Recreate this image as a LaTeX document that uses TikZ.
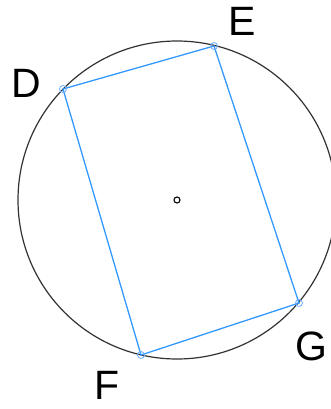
\documentclass[tikz,border=0pt]{standalone}
\usepackage{fontspec}
\setmainfont{Liberation Sans}
\begin{document}
\begin{tikzpicture}[x=1pt,y=-1pt,
  circ/.style={draw=black!80,line width=1.2pt},
  side/.style={draw={rgb,255:red,51;green,153;blue,255},line width=1.3pt},
  vmark/.style={circle,draw={rgb,255:red,120;green,180;blue,255},line width=0.9pt,inner sep=0pt,minimum size=7pt},
  lab/.style={font=\fontsize{41}{41}\selectfont,inner sep=0pt}]
\useasboundingbox (0,0) rectangle (331,409);
\coordinate (O) at (177,200);
\draw[circ] (O) circle (159);
\coordinate (D) at (63,89);
\coordinate (E) at (214,46);
\coordinate (G) at (299,303);
\coordinate (F) at (141,355);
\draw[side] (D) -- (E) -- (G) -- (F) -- cycle;
\foreach \p in {D,E,G,F} \node[vmark] at (\p) {};
\node[circle,draw=black,line width=1.1pt,inner sep=0pt,minimum size=6pt] (o) at (O) {};
\node[lab] (lD) at (26,83) {D};
\node[lab] (lE) at (242,21) {E};
\node[lab] (lG) at (311,346) {G};
\node[lab] (lF) at (107,385) {F};
\end{tikzpicture}
\end{document}
